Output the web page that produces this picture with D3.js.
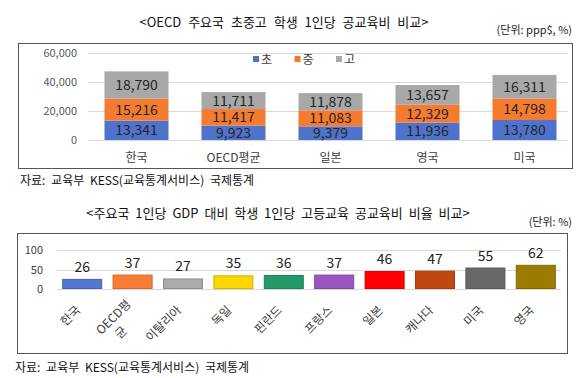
<!DOCTYPE html>
<html>
<head>
<meta charset="utf-8">
<script src="https://cdn.jsdelivr.net/npm/d3@7"></script>
<style>
  body { margin: 0; background: #fff; }
  svg { display: block; font-family: "Noto Sans CJK KR", "Noto Sans", sans-serif; }
</style>
</head>
<body>
<svg class="chart" width="584" height="378"></svg>
<script>
// top chart data
const countries = ['한국', 'OECD평균', '일본', '영국', '미국'];
const levels = ['초', '중', '고'];
const elem = [13341, 9923, 9379, 11936, 13780];
const mid = [15216, 11417, 11083, 12329, 14798];
const high = [18790, 11711, 11878, 13657, 16311];
const yTicks1 = [0, 20000, 40000, 60000];
const levelColors = ['#4f73cc', '#f47b30', '#a8a8a8'];

// bottom chart data
const countries2 = ['한국', 'OECD평균', '이탈리아', '독일', '핀란드', '프랑스', '일본', '캐나다', '미국', '영국'];
const ratio = [26, 37, 27, 35, 36, 37, 46, 47, 55, 62];
const yTicks2 = [0, 50, 100];
const barColors = ['#5577d2', '#fb7d35', '#aaaaaa', '#fcd600', '#23996a', '#9a55c0', '#ff0000', '#c04810', '#686868', '#9a7d00'];

const svg = d3.select('.chart');

// ---------- top chart ----------
svg.append('text').attr('x', 284).attr('y', 27).attr('text-anchor', 'middle')
  .attr('font-size', 13).attr('fill', '#111').attr('word-spacing', 4)
  .text('<OECD 주요국 초중고 학생 1인당 공교육비 비교>');
svg.append('text').attr('x', 572).attr('y', 34).attr('text-anchor', 'end')
  .attr('font-size', 11).attr('fill', '#222')
  .text('(단위: ppp$, %)');

svg.append('rect').attr('x', 18.5).attr('y', 43.5).attr('width', 554).attr('height', 125)
  .attr('fill', 'none').attr('stroke', '#555');

const x1 = d3.scaleBand().domain(countries).range([88, 573]).paddingInner(0.34).paddingOuter(0.17);
const y1 = d3.scaleLinear().domain([0, 60000]).range([140, 53]);

const g1 = svg.append('g');
g1.selectAll('line.grid').data(yTicks1).join('line')
  .attr('x1', 88).attr('x2', 568)
  .attr('y1', d => Math.round(y1(d)) + 0.5).attr('y2', d => Math.round(y1(d)) + 0.5)
  .attr('stroke', '#d9d9d9');
g1.selectAll('text.tick').data(yTicks1).join('text')
  .attr('x', 77).attr('y', d => y1(d) + 4).attr('text-anchor', 'end')
  .attr('font-size', 11).attr('fill', '#595959')
  .text(d => d3.format(',')(d));

const rows = countries.map((c, i) => ({ c, 초: elem[i], 중: mid[i], 고: high[i] }));
const stack = d3.stack().keys(levels)(rows);

const fmt = d3.format(',');
stack.forEach((s, k) => {
  g1.selectAll(null).data(s).join('rect')
    .attr('x', d => x1(d.data.c))
    .attr('y', d => y1(d[1]))
    .attr('width', x1.bandwidth())
    .attr('height', d => y1(d[0]) - y1(d[1]))
    .attr('fill', levelColors[k]);
  g1.selectAll(null).data(s).join('text')
    .attr('x', d => x1(d.data.c) + x1.bandwidth() / 2)
    .attr('y', d => (y1(d[0]) + y1(d[1])) / 2 + 5)
    .attr('text-anchor', 'middle').attr('font-size', 14).attr('fill', '#262626')
    .text(d => fmt(d[1] - d[0]));
});

g1.selectAll('text.cat').data(countries).join('text')
  .attr('x', d => x1(d) + x1.bandwidth() / 2).attr('y', 162)
  .attr('text-anchor', 'middle').attr('font-size', 12).attr('fill', '#404040')
  .text(d => d);

// legend
const leg = g1.selectAll('g.leg').data(levels).join('g')
  .attr('transform', (d, i) => `translate(${253 + i * 41.5},59)`);
leg.append('rect').attr('x', 0).attr('y', -3).attr('width', 6).attr('height', 6)
  .attr('fill', (d, i) => levelColors[i]);
leg.append('text').attr('x', 8).attr('y', 5).attr('font-size', 12).attr('fill', '#404040')
  .text(d => d);

svg.append('text').attr('x', 20).attr('y', 185).attr('font-size', 12).attr('fill', '#111')
  .attr('word-spacing', 3)
  .text('자료: 교육부 KESS(교육통계서비스) 국제통계');

// ---------- bottom chart ----------
svg.append('text').attr('x', 278).attr('y', 218).attr('text-anchor', 'middle')
  .attr('font-size', 13).attr('fill', '#111').attr('word-spacing', 3)
  .text('<주요국 1인당 GDP 대비 학생 1인당 고등교육 공교육비 비율 비교>');
svg.append('text').attr('x', 572).attr('y', 226).attr('text-anchor', 'end')
  .attr('font-size', 11).attr('fill', '#222')
  .text('(단위: %)');

svg.append('rect').attr('x', 17.5).attr('y', 233.5).attr('width', 550).attr('height', 120)
  .attr('fill', 'none').attr('stroke', '#555');

const x2 = d3.scaleBand().domain(countries2).range([57, 561]).paddingInner(0.206).paddingOuter(0.103);
const y2 = d3.scaleLinear().domain([0, 100]).range([289, 250]);

const g2 = svg.append('g');
g2.selectAll('line.grid').data(yTicks2).join('line')
  .attr('x1', 57).attr('x2', 561)
  .attr('y1', d => Math.round(y2(d)) + 0.5).attr('y2', d => Math.round(y2(d)) + 0.5)
  .attr('stroke', '#d9d9d9');
g2.selectAll('text.tick').data(yTicks2).join('text')
  .attr('x', 43).attr('y', d => y2(d) + 4).attr('text-anchor', 'end')
  .attr('font-size', 11).attr('fill', '#404040')
  .text(d => d);

g2.selectAll('rect.bar').data(ratio).join('rect')
  .attr('x', (d, i) => x2(countries2[i]) + 0.5)
  .attr('y', d => y2(d) + 0.5)
  .attr('width', x2.bandwidth() - 1)
  .attr('height', d => y2(0) - y2(d) - 1)
  .attr('fill', (d, i) => barColors[i])
  .attr('stroke', (d, i) => d3.color(barColors[i]).darker(0.5));

g2.selectAll('text.val').data(ratio).join('text')
  .attr('x', (d, i) => x2(countries2[i]) + x2.bandwidth() / 2)
  .attr('y', d => y2(d) - 7)
  .attr('text-anchor', 'middle').attr('font-size', 14).attr('fill', '#222')
  .text(d => d);

const cats = g2.selectAll('g.cat').data(countries2).join('g')
  .attr('transform', d => `translate(${x2(d) + x2.bandwidth() / 2 - 1},${d === 'OECD평균' ? 305 : 311}) rotate(-45)`);
cats.each(function (d) {
  const g = d3.select(this);
  if (d === 'OECD평균') {
    g.append('text').attr('text-anchor', 'end').attr('font-size', 12).attr('fill', '#404040').text('OECD평');
    g.append('text').attr('x', -27).attr('y', 16).attr('text-anchor', 'middle').attr('font-size', 12).attr('fill', '#404040').text('균');
  } else {
    g.append('text').attr('text-anchor', 'end').attr('font-size', 12).attr('fill', '#404040').text(d);
  }
});

svg.append('text').attr('x', 15).attr('y', 372).attr('font-size', 12).attr('fill', '#111')
  .attr('word-spacing', 3)
  .text('자료: 교육부 KESS(교육통계서비스) 국제통계');
</script>
</body>
</html>
